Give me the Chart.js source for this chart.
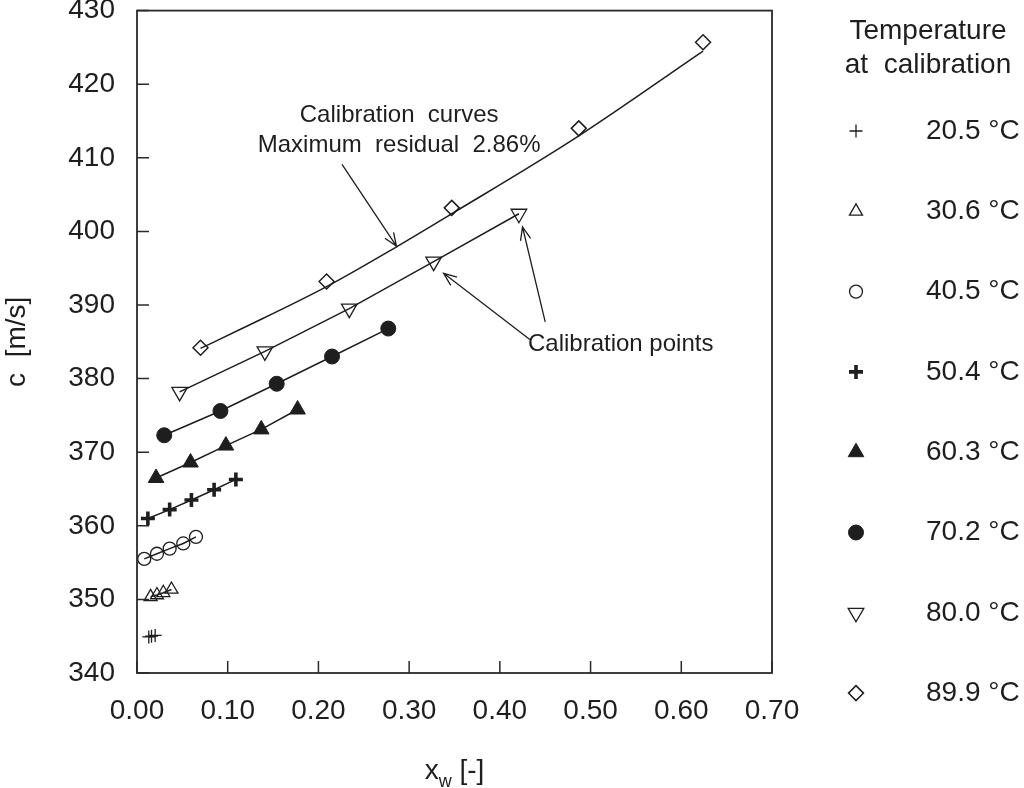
<!DOCTYPE html>
<html>
<head>
<meta charset="utf-8">
<script src="https://cdn.jsdelivr.net/npm/chart.js@4.4.1/dist/chart.umd.min.js"></script>
<style>
  html, body { margin: 0; padding: 0; background: #fff; }
  #wrap { width: 1024px; height: 788px; position: relative; }
</style>
</head>
<body>
<div id="wrap"><canvas id="soundSpeedChart"></canvas></div>
<script>
// temperatures at calibration (legend)
const temps = ['20.5 °C', '30.6 °C', '40.5 °C', '50.4 °C', '60.3 °C', '70.2 °C', '80.0 °C', '89.9 °C'];

// calibration points: water fraction x_w [-] and sound speed c [m/s]
const xw205 = [0.013, 0.016, 0.020];
const c205  = [344.9, 345.0, 345.1];
const xw306 = [0.015, 0.022, 0.029, 0.038];
const c306  = [350.35, 350.6, 350.9, 351.35];
const xw405 = [0.008, 0.022, 0.036, 0.051, 0.065];
const c405  = [355.5, 356.2, 356.9, 357.6, 358.5];
const xw504 = [0.012, 0.036, 0.060, 0.085, 0.109];
const c504  = [361.0, 362.2, 363.5, 364.9, 366.3];
const xw603 = [0.021, 0.059, 0.098, 0.137, 0.177];
const c603  = [366.5, 368.6, 370.9, 373.1, 375.8];
const xw702 = [0.030, 0.092, 0.154, 0.215, 0.277];
const c702  = [372.3, 375.6, 379.3, 383.0, 386.8];
const xw800 = [0.047, 0.141, 0.234, 0.327, 0.421];
const c800  = [378.2, 383.7, 389.5, 395.9, 402.4];
const xw899 = [0.070, 0.209, 0.347, 0.487, 0.624];
const c899  = [384.2, 393.2, 403.2, 414.0, 425.7];

// fitted calibration curve at 89.9 °C
const fitXw899 = [0.070, 0.114, 0.209, 0.286, 0.347, 0.481, 0.624];
const fitC899  = [384.1, 386.7, 392.5, 397.9, 402.4, 412.5, 424.5];

// axis ticks
const xTicks = [0, 0.1, 0.2, 0.3, 0.4, 0.5, 0.6, 0.7];
const yTicks = [340, 350, 360, 370, 380, 390, 400, 410, 420, 430];

const ink = '#1e1e1e';
const font = "'Liberation Sans', Arial, sans-serif";

const seriesX = [xw205, xw306, xw405, xw504, xw603, xw702, xw800, xw899];
const seriesC = [c205, c306, c405, c504, c603, c702, c800, c899];

// marker look per series
const markers = [
  { pointStyle: 'cross',    radius: 6.5, borderWidth: 1.3, fill: false, rotation: 0 },
  { pointStyle: 'triangle', radius: 7.5, borderWidth: 1.3, fill: false, rotation: 0 },
  { pointStyle: 'circle',   radius: 6.5, borderWidth: 1.3, fill: false, rotation: 0 },
  { pointStyle: 'cross',    radius: 7,   borderWidth: 3.6, fill: false, rotation: 0 },
  { pointStyle: 'triangle', radius: 9,   borderWidth: 1,   fill: true,  rotation: 0 },
  { pointStyle: 'circle',   radius: 7.5, borderWidth: 1,   fill: true,  rotation: 0 },
  { pointStyle: 'triangle', radius: 9,   borderWidth: 1.3, fill: false, rotation: 180 },
  { pointStyle: 'rectRot',  radius: 7.5, borderWidth: 1.5, fill: false, rotation: 0 }
];

const datasets = temps.map((t, i) => ({
  label: t,
  data: seriesX[i].map((v, j) => ({ x: v, y: seriesC[i][j] })),
  showLine: i !== 7,
  borderColor: ink,
  borderWidth: 1.5,
  backgroundColor: markers[i].fill ? ink : 'rgba(0,0,0,0)',
  pointStyle: markers[i].pointStyle,
  pointRadius: markers[i].radius,
  pointRotation: markers[i].rotation,
  pointBorderWidth: markers[i].borderWidth,
  pointBorderColor: ink,
  pointBackgroundColor: markers[i].fill ? ink : 'rgba(0,0,0,0)'
}));

datasets.push({
  label: 'fit 89.9',
  data: fitXw899.map((v, j) => ({ x: v, y: fitC899[j] })),
  showLine: true,
  borderColor: ink,
  borderWidth: 1.5,
  pointRadius: 0,
  cubicInterpolationMode: 'monotone'
});

// annotations, in data units
const notes = [
  { text: 'Calibration  curves', x: 0.289, y: 415.8, align: 'center' },
  { text: 'Maximum  residual  2.86%', x: 0.289, y: 411.7, align: 'center' },
  { text: 'Calibration points', x: 0.431, y: 384.6, align: 'left' }
];
const arrows = [
  { from: [0.226, 409.1], to: [0.286, 398.0] },
  { from: [0.433, 385.3], to: [0.338, 394.3] },
  { from: [0.450, 387.7], to: [0.425, 400.6] }
];

function drawMarker(ctx, m, x, y) {
  ctx.save();
  ctx.strokeStyle = ink;
  ctx.fillStyle = m.fill ? ink : 'rgba(0,0,0,0)';
  ctx.lineWidth = m.borderWidth;
  Chart.helpers.drawPoint(ctx, { pointStyle: m.pointStyle, radius: m.radius, rotation: m.rotation, borderWidth: m.borderWidth }, x, y);
  ctx.restore();
}

const framePlugin = {
  id: 'frame',
  afterDraw(chart) {
    const { ctx, chartArea: a, scales: { x, y } } = chart;
    ctx.save();
    ctx.strokeStyle = '#2a2a2a';
    ctx.lineWidth = 1.8;
    ctx.strokeRect(a.left, a.top, a.right - a.left, a.bottom - a.top);

    // inward ticks
    ctx.lineWidth = 1.5;
    ctx.beginPath();
    x.ticks.forEach(t => {
      const px = x.getPixelForValue(t.value);
      ctx.moveTo(px, a.bottom);
      ctx.lineTo(px, a.bottom - 12);
    });
    y.ticks.forEach(t => {
      const py = y.getPixelForValue(t.value);
      ctx.moveTo(a.left, py);
      ctx.lineTo(a.left + 12, py);
    });
    ctx.stroke();

    // axis titles
    ctx.fillStyle = ink;
    ctx.font = '28px ' + font;
    ctx.save();
    ctx.translate(17, (a.top + a.bottom) / 2);
    ctx.rotate(-Math.PI / 2);
    ctx.textAlign = 'center';
    ctx.textBaseline = 'middle';
    ctx.fillText('c  [m/s]', 0, 0);
    ctx.restore();

    const cx = (a.left + a.right) / 2;
    ctx.textBaseline = 'alphabetic';
    ctx.textAlign = 'left';
    const wX = ctx.measureText('x').width;
    ctx.font = '18px ' + font;
    const wW = ctx.measureText('w').width;
    ctx.font = '28px ' + font;
    const wR = ctx.measureText(' [-]').width;
    let sx = cx - (wX + wW + wR) / 2;
    ctx.fillText('x', sx, 779);
    ctx.font = '18px ' + font;
    ctx.fillText('w', sx + wX, 787);
    ctx.font = '28px ' + font;
    ctx.fillText(' [-]', sx + wX + wW, 779);

    // annotations
    ctx.font = '24px ' + font;
    ctx.textBaseline = 'middle';
    notes.forEach(n => {
      ctx.textAlign = n.align;
      ctx.fillText(n.text, x.getPixelForValue(n.x), y.getPixelForValue(n.y));
    });
    ctx.lineWidth = 1.3;
    ctx.strokeStyle = ink;
    arrows.forEach(r => {
      const x0 = x.getPixelForValue(r.from[0]), y0 = y.getPixelForValue(r.from[1]);
      const x1 = x.getPixelForValue(r.to[0]), y1 = y.getPixelForValue(r.to[1]);
      const ang = Math.atan2(y1 - y0, x1 - x0);
      const h = 14, spread = 0.38;
      ctx.beginPath();
      ctx.moveTo(x0, y0);
      ctx.lineTo(x1, y1);
      ctx.moveTo(x1 - h * Math.cos(ang - spread), y1 - h * Math.sin(ang - spread));
      ctx.lineTo(x1, y1);
      ctx.lineTo(x1 - h * Math.cos(ang + spread), y1 - h * Math.sin(ang + spread));
      ctx.stroke();
    });

    // legend
    ctx.font = '28px ' + font;
    ctx.textAlign = 'center';
    ctx.fillText('Temperature', 928, 31);
    ctx.fillText('at  calibration', 928, 65);
    ctx.textAlign = 'left';
    temps.forEach((t, i) => {
      const ly = 131 + i * 80.3;
      drawMarker(ctx, markers[i], 856, ly);
      ctx.fillStyle = ink;
      ctx.fillText(t, 926, ly);
    });
    ctx.restore();
  }
};

new Chart(document.getElementById('soundSpeedChart'), {
  type: 'scatter',
  data: { datasets: datasets },
  options: {
    responsive: true,
    maintainAspectRatio: false,
    animation: false,
    layout: { padding: { top: 7, right: 252, bottom: 0, left: 0 } },
    plugins: { legend: { display: false }, tooltip: { enabled: false } },
    scales: {
      x: {
        type: 'linear',
        min: 0,
        max: 0.7,
        afterBuildTicks: s => { s.ticks = xTicks.map(v => ({ value: v })); },
        afterFit: s => { s.height = 115; s.paddingLeft = 0; s.paddingRight = 0; },
        grid: { display: false, drawTicks: false },
        border: { display: false },
        ticks: { color: ink, font: { size: 28, family: font }, padding: 21, maxRotation: 0, callback: v => v.toFixed(2) }
      },
      y: {
        type: 'linear',
        min: 340,
        max: 430,
        afterBuildTicks: s => { s.ticks = yTicks.map(v => ({ value: v })); },
        afterFit: s => { s.width = 137; s.paddingTop = 0; s.paddingBottom = 0; },
        grid: { display: false, drawTicks: false },
        border: { display: false },
        ticks: { color: ink, font: { size: 28, family: font }, padding: 22 }
      }
    }
  },
  plugins: [framePlugin]
});
</script>
</body>
</html>
